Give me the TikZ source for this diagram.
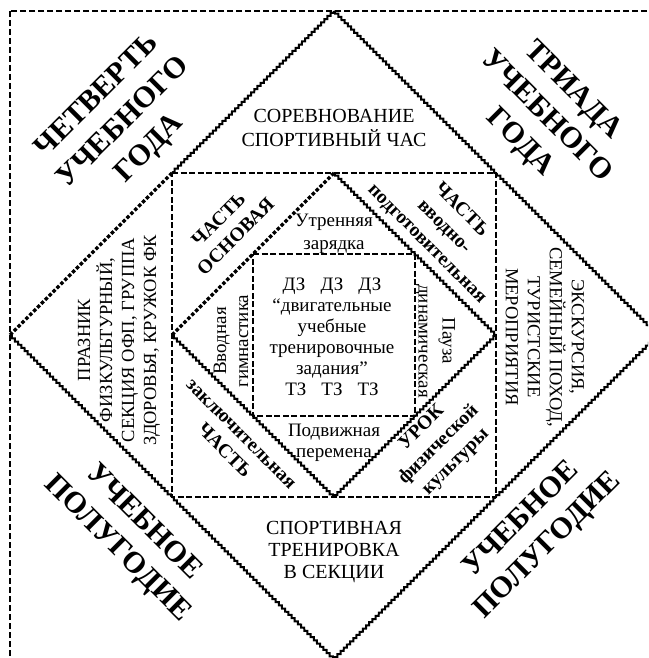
\documentclass[tikz,border=0pt]{standalone}
\usepackage{fontspec}
\setmainfont{Liberation Serif}
\usetikzlibrary{decorations.pathmorphing}
\begin{document}
\begin{tikzpicture}[x=1pt,y=-1pt,
  framebox/.style={line width=1.7pt, dash pattern=on 6pt off 3pt},
  wavy/.style={line width=2pt, decorate, decoration={snake, segment length=4.5pt, amplitude=1.1pt}},
  heavy/.style={line width=3.4pt, dash pattern=on 3.5pt off 2pt},
  sqline/.style={line width=2.6pt, dash pattern=on 6pt off 2.5pt},
  bigtxt/.style={font=\fontsize{30}{37}\selectfont\bfseries, align=center, inner sep=0pt},
  captxt/.style={font=\fontsize{20}{24}\selectfont, align=center, inner sep=0pt},
  sidetxt/.style={font=\fontsize{18.5}{22}\selectfont, align=center, inner sep=0pt},
  parttxt/.style={font=\fontsize{19.5}{24}\selectfont\bfseries, align=center, inner sep=0pt},
  smalltxt/.style={font=\fontsize{19}{22}\selectfont, align=center, inner sep=0pt}
]
\useasboundingbox (0,0) rectangle (648,658);
\fill[white] (0,0) rectangle (648,658);
\clip (0,0) rectangle (648,658);

% outer frame
\draw[framebox] (10,11) rectangle (680,690);

% outer diamond vertices
\coordinate (T) at (334,11);
\coordinate (L) at (10,335);
\coordinate (B) at (334,659);
\coordinate (R) at (658,335);
% square corners
\coordinate (s1) at (172,173);
\coordinate (s2) at (496,173);
\coordinate (s3) at (496,497);
\coordinate (s4) at (172,497);
% inner diamond vertices
\coordinate (dT) at (334,173);
\coordinate (dR) at (496,335);
\coordinate (dB) at (334,497);
\coordinate (dL) at (172,335);
% inner square corners
\coordinate (q1) at (253,254);
\coordinate (q2) at (415,254);
\coordinate (q3) at (415,416);
\coordinate (q4) at (253,416);

% outer diamond
\draw[wavy] (T) -- (s1);
\draw[heavy] (s1) -- (L);
\draw[wavy] (L) -- (s4);
\draw[wavy] (s4) -- (B);
\draw[wavy] (B) -- (s3);
\draw[wavy] (s3) -- (R);
\draw[wavy] (R) -- (s2);
\draw[wavy] (s2) -- (T);

% square
\draw[sqline] (s1) -- (s2) -- (s3) -- (s4) -- cycle;

% inner diamond
\draw[heavy] (dT) -- (dL);
\draw[wavy] (dL) -- (dB);
\draw[wavy] (dB) -- (dR);
\draw[wavy] (dR) -- (dT);

% inner square
\draw[sqline] (q1) -- (q2) -- (q3) -- (q4) -- cycle;

% corner labels
\node[bigtxt, rotate=45] (tl) at (124,123) {ЧЕТВЕРТЬ\\УЧЕБНОГО\\ГОДА};
\node[bigtxt, rotate=-45] (tr) at (546,117) {ТРИАДА\\УЧЕБНОГО\\ГОДА};
\node[bigtxt, rotate=-45] (bl) at (130,536) {УЧЕБНОЕ\\ПОЛУГОДИЕ};
\node[bigtxt, rotate=45] (br) at (535,533) {УЧЕБНОЕ\\ПОЛУГОДИЕ};

% diamond triangles
\node[captxt] (top) at (334,128) {СОРЕВНОВАНИЕ\\СПОРТИВНЫЙ ЧАС};
\node[captxt, font=\fontsize{20}{22}\selectfont] (bot) at (334,552) {СПОРТИВНАЯ\\ТРЕНИРОВКА\\В СЕКЦИИ};
\node[sidetxt, rotate=90] (lft) at (119,340) {ПРАЗНИК\\ФИЗКУЛЬТУРНЫЙ,\\СЕКЦИЯ ОФП, ГРУППА\\ЗДОРОВЬЯ, КРУЖОК ФК};
\node[sidetxt, rotate=-90] (rgt) at (545,337) {ЭКСКУРСИЯ,\\СЕМЕЙНЫЙ ПОХОД,\\ТУРИСТСКИЕ\\МЕРОПРИЯТИЯ};

% square corner triangles
\node[parttxt, rotate=45] (p1) at (227,228) {ЧАСТЬ\\ОСНОВАЯ};
\node[parttxt, rotate=-45] (p2) at (444,227) {ЧАСТЬ\\вводно-\\подготовительная};
\node[parttxt, rotate=-45] (p3) at (232,443) {заключительная\\ЧАСТЬ};
\node[parttxt, rotate=45] (p4) at (439,445) {УРОК\\физической\\культуры};

% inner diamond triangles
\node[smalltxt, font=\fontsize{19}{23}\selectfont] (m1) at (334,234) {Утренняя\\зарядка};
\node[smalltxt, font=\fontsize{19}{21}\selectfont] (m2) at (334,443) {Подвижная\\перемена};
\node[smalltxt, rotate=90] (m3) at (231,341) {Вводная\\гимнастика};
\node[smalltxt, font=\fontsize{19}{24}\selectfont, rotate=-90] (m4) at (435,341) {Пауза\\динамическая};

% centre
\node[smalltxt, font=\fontsize{19}{21}\selectfont] (c) at (332,337) {ДЗ\hspace{15pt}ДЗ\hspace{15pt}ДЗ\\“двигательные\\учебные\\тренировочные\\задания”\\ТЗ\hspace{15pt}ТЗ\hspace{15pt}ТЗ};
\end{tikzpicture}
\end{document}
